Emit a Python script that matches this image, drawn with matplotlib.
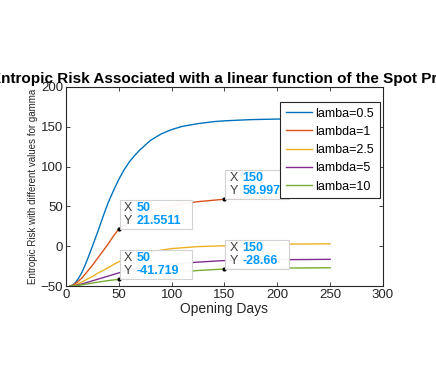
import numpy as np
import matplotlib
matplotlib.use("Agg")
import matplotlib.pyplot as plt
from matplotlib.patches import Rectangle
from matplotlib.transforms import ScaledTranslation

plt.rcParams['font.family'] = ['Liberation Sans', 'DejaVu Sans']

# opening days and entropic risk per lambda
days_a = [4, 6, 8, 10, 12, 15, 18, 21, 25, 30, 35, 40, 45, 50, 55, 60, 65, 70, 75, 80,
          90, 100, 110, 125, 140, 150, 175, 200, 225, 250]
risk_05 = [-50, -49, -47, -44, -40, -33, -24, -14, 0, 18, 37, 55, 70, 84, 96, 106, 114,
           121, 127, 133, 141, 146.5, 150.5, 154, 156.5, 157.5, 159, 159.7, 160, 160.2]

days_b = [4, 7, 10, 15, 20, 25, 30, 35, 40, 45, 50, 60, 70, 80, 90, 100, 125, 150, 175,
          200, 250]
risk_1 = [-50, -48.5, -46, -40, -32, -24, -15, -6, 3, 13, 21.5511, 31, 38.5, 44, 48,
          51, 56, 58.997, 60.5, 61.5, 62.5]
risk_25 = [-50, -49.5, -48, -45, -41.5, -38, -34, -30.5, -27, -23, -19.5, -14.5, -10.5,
           -7.5, -5, -3, -0.5, 0.5, 1.5, 2.5, 3]
risk_5 = [-50, -49.7, -49, -47.5, -45.5, -43.5, -41.5, -39.5, -37.5, -35.5, -33.5,
          -30.5, -28, -26, -24, -22.5, -20, -18, -17.3, -17, -16.5]
risk_10 = [-50, -49.8, -49.5, -48.5, -47.5, -46.3, -45.2, -44.2, -43.2, -42.4, -41.719,
           -39.8, -38, -36.3, -34.8, -33.3, -30.5, -28.66, -27.9, -27.5, -27.1]

labels = ['lamba=0.5', 'lambda=1', 'lamba=2.5', 'lambda=5', 'lamba=10']
colors = ['#0072BD', '#D95319', '#EDB120', '#7E2F8E', '#77AC30']

# data tips
tip_x = [50, 150, 50, 150]
tip_y = [21.5511, 58.997, -41.719, -28.66]
tip_txt = ['21.5511', '58.997', '-41.719', '-28.66']

fig = plt.figure(figsize=(4.36, 3.82), dpi=100)
ax = fig.add_axes([0.1514, 0.2513, 0.727, 0.521])

ax.plot(days_a, risk_05, color=colors[0], lw=1, label=labels[0])
for vals, c, lab in zip([risk_1, risk_25, risk_5, risk_10], colors[1:], labels[1:]):
    ax.plot(days_b, vals, color=c, lw=1, label=lab)

ax.set_xlim(0, 300)
ax.set_ylim(-50, 200)
ax.set_xticks(np.arange(0, 301, 50))
ax.set_yticks(np.arange(-50, 201, 50))
ax.tick_params(direction='in', top=True, right=True, labelsize=9.5,
               length=3, width=0.6, colors='#262626', pad=2)
for s in ax.spines.values():
    s.set_color('#262626')
    s.set_linewidth(0.8)

ax.set_xlabel('Opening Days', fontsize=10, color='#262626', labelpad=1)
ax.set_ylabel('Entropic Risk with different values for gamma', fontsize=7,
              color='#262626', labelpad=2)
ax.set_title('Entropic Risk Associated with a linear function of the Spot Price',
             fontsize=11, fontweight='bold', pad=3)

for x, y, t in zip(tip_x, tip_y, tip_txt):
    ax.plot(x, y, 'o', ms=2, color='black', zorder=6)
    tr = fig.dpi_scale_trans + ScaledTranslation(x, y, ax.transData)
    w = 0.12 + 0.086 * len(t)
    ax.add_patch(Rectangle((0.01, 0.0), w, 0.29, transform=tr, fc='white',
                           ec='#d0d0d0', lw=0.8, alpha=0.95, zorder=7, clip_on=False))
    ax.text(0.05, 0.21, 'X', transform=tr, fontsize=9, color='#404040',
            va='center', zorder=8)
    ax.text(0.18, 0.21, str(x), transform=tr, fontsize=9, color='#0099FF',
            fontweight='bold', va='center', zorder=8)
    ax.text(0.05, 0.085, 'Y', transform=tr, fontsize=9, color='#404040',
            va='center', zorder=8)
    ax.text(0.18, 0.085, t, transform=tr, fontsize=9, color='#0099FF',
            fontweight='bold', va='center', zorder=8)

leg = ax.legend(loc='upper right', bbox_to_anchor=(0.99, 0.925), borderaxespad=0,
                fontsize=9, fancybox=False, framealpha=1, edgecolor='#262626',
                handlelength=2.1, handletextpad=0.3, labelspacing=0.5,
                borderpad=0.45)
leg.get_frame().set_linewidth(0.8)
leg.set_zorder(9)

fig.savefig('out.png', dpi=100)
